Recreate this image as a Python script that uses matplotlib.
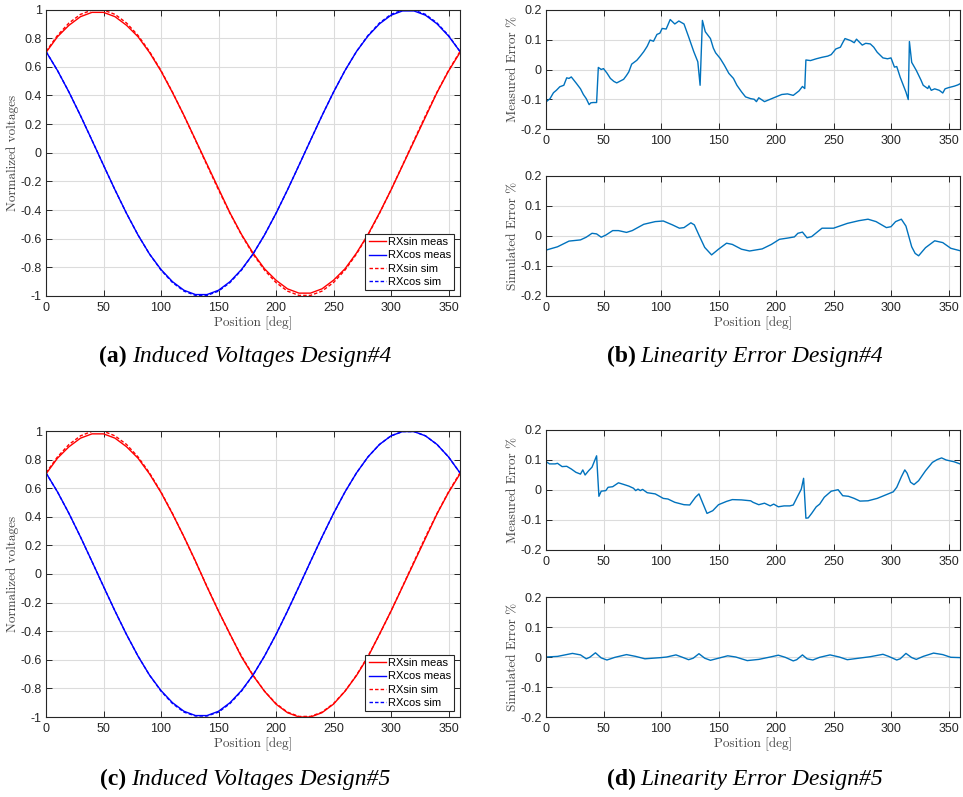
import numpy as np
import matplotlib.pyplot as plt

plt.rcParams['axes.unicode_minus'] = False
plt.rcParams['font.family'] = 'Liberation Sans'

W, H = 963, 797

# ---- induced voltages, read every 10 deg ----
pos_v = list(range(0, 361, 10))

d4_sin_meas = [0.70, 0.81, 0.89, 0.95, 0.98, 0.98, 0.95, 0.89, 0.81, 0.70, 0.57, 0.42, 0.26, 0.09,
               -0.08, -0.25, -0.42, -0.57, -0.70, -0.81, -0.89, -0.95, -0.98, -0.98, -0.95, -0.89,
               -0.81, -0.70, -0.57, -0.42, -0.26, -0.09, 0.08, 0.25, 0.42, 0.57, 0.70]
d4_cos_meas = [0.707, 0.574, 0.423, 0.259, 0.087, -0.087, -0.259, -0.423, -0.574, -0.707, -0.815,
               -0.900, -0.960, -0.990, -0.990, -0.960, -0.900, -0.815, -0.707, -0.574, -0.423,
               -0.259, -0.087, 0.087, 0.259, 0.423, 0.574, 0.707, 0.815, 0.900, 0.960, 0.990,
               0.990, 0.960, 0.900, 0.815, 0.707]
d4_sin_sim = [0.707, 0.819, 0.906, 0.966, 0.996, 0.996, 0.966, 0.906, 0.819, 0.707, 0.574, 0.423,
              0.259, 0.087, -0.087, -0.259, -0.423, -0.574, -0.707, -0.819, -0.906, -0.966, -0.996,
              -0.996, -0.966, -0.906, -0.819, -0.707, -0.574, -0.423, -0.259, -0.087, 0.087, 0.259,
              0.423, 0.574, 0.707]
d4_cos_sim = [0.707, 0.574, 0.423, 0.259, 0.087, -0.087, -0.259, -0.423, -0.574, -0.707, -0.819,
              -0.906, -0.966, -0.996, -0.996, -0.966, -0.906, -0.819, -0.707, -0.574, -0.423,
              -0.259, -0.087, 0.087, 0.259, 0.423, 0.574, 0.707, 0.819, 0.906, 0.966, 0.996,
              0.996, 0.966, 0.906, 0.819, 0.707]

d5_sin_meas = [0.70, 0.81, 0.89, 0.95, 0.98, 0.98, 0.95, 0.89, 0.81, 0.70, 0.57, 0.42, 0.26, 0.09,
               -0.09, -0.26, -0.42, -0.58, -0.71, -0.82, -0.91, -0.97, -1.00, -1.00, -0.97, -0.91,
               -0.82, -0.71, -0.58, -0.42, -0.26, -0.09, 0.08, 0.25, 0.42, 0.57, 0.70]
d5_cos_meas = [0.707, 0.574, 0.423, 0.259, 0.087, -0.087, -0.259, -0.423, -0.574, -0.707, -0.815,
               -0.900, -0.960, -0.990, -0.990, -0.960, -0.900, -0.815, -0.707, -0.574, -0.423,
               -0.259, -0.087, 0.087, 0.259, 0.423, 0.574, 0.707, 0.819, 0.906, 0.966, 0.996,
               0.996, 0.966, 0.906, 0.819, 0.707]
d5_sin_sim = [0.707, 0.819, 0.906, 0.966, 0.998, 0.998, 0.966, 0.906, 0.819, 0.707, 0.574, 0.423,
              0.259, 0.087, -0.087, -0.259, -0.423, -0.574, -0.707, -0.819, -0.906, -0.966, -0.996,
              -0.996, -0.966, -0.906, -0.819, -0.707, -0.574, -0.423, -0.259, -0.087, 0.087, 0.259,
              0.423, 0.574, 0.707]
d5_cos_sim = [0.707, 0.574, 0.423, 0.259, 0.087, -0.087, -0.259, -0.423, -0.574, -0.707, -0.819,
              -0.906, -0.966, -0.993, -0.993, -0.966, -0.906, -0.819, -0.707, -0.574, -0.423,
              -0.259, -0.087, 0.087, 0.259, 0.423, 0.574, 0.707, 0.819, 0.906, 0.966, 0.996,
              0.996, 0.966, 0.906, 0.819, 0.707]

# ---- linearity error, digitized ----
d4_err_meas_pos = [0, 3.5, 6.5, 9, 12, 15.5, 18, 20, 22, 26.5, 30, 32.5, 35, 37.5, 39, 41, 44, 45.5,
                   48, 50, 53, 56, 59, 61.5, 64, 67.5, 70, 72, 74.5, 79, 82, 85, 88, 90.5, 93.5,
                   96.5, 99, 101, 104.5, 108, 112, 115.5, 120, 124, 128.5, 132, 134, 136, 138.5,
                   143, 145.5, 147.5, 151.5, 155, 159, 163, 166, 170, 173.5, 178, 181, 183, 185,
                   190, 195, 200, 205, 210, 215, 220, 223, 225, 226, 230, 235, 240, 245, 248, 252,
                   256, 258, 260, 265, 268, 270, 275, 278, 282, 285, 288, 293, 297, 300, 303, 305,
                   308, 313, 315, 316, 318, 322, 326, 328, 332, 333, 335, 338, 342, 345, 347, 350,
                   355, 358, 360]
d4_err_meas = [-0.109, -0.098, -0.078, -0.070, -0.058, -0.053, -0.028, -0.030, -0.025, -0.047,
               -0.065, -0.084, -0.098, -0.118, -0.112, -0.111, -0.111, 0.007, 0.000, 0.003,
               -0.012, -0.030, -0.040, -0.045, -0.040, -0.033, -0.020, -0.008, 0.018, 0.031,
               0.045, 0.060, 0.078, 0.099, 0.095, 0.118, 0.122, 0.138, 0.136, 0.168, 0.153,
               0.163, 0.153, 0.110, 0.060, 0.026, -0.053, 0.165, 0.127, 0.104, 0.072, 0.056,
               0.037, 0.015, -0.013, -0.030, -0.053, -0.075, -0.092, -0.098, -0.100, -0.108,
               -0.095, -0.108, -0.100, -0.092, -0.084, -0.082, -0.087, -0.072, -0.057, -0.064,
               0.032, 0.030, 0.036, 0.041, 0.045, 0.050, 0.069, 0.075, 0.090, 0.104, 0.097,
               0.090, 0.102, 0.082, 0.088, 0.086, 0.075, 0.058, 0.039, 0.036, 0.039, 0.008,
               0.010, -0.026, -0.076, -0.101, 0.094, 0.024, -0.003, -0.035, -0.053, -0.064,
               -0.055, -0.070, -0.065, -0.070, -0.079, -0.065, -0.061, -0.056, -0.052, -0.048]

d4_err_sim_pos = [0, 10, 20, 30, 35, 40, 44, 48, 52, 58, 63, 70, 75, 85, 95, 102, 110, 116, 120,
                  126, 129, 133, 138, 144, 150, 157, 162, 170, 177, 188, 196, 203, 210, 216, 219,
                  223, 227, 231, 240, 250, 262, 272, 280, 287, 296, 300, 304, 309, 313, 318, 321,
                  324, 330, 338, 345, 352, 360]
d4_err_sim = [-0.047, -0.036, -0.017, -0.013, -0.004, 0.009, 0.007, -0.004, 0.003, 0.018, 0.018,
              0.012, 0.018, 0.039, 0.048, 0.050, 0.037, 0.026, 0.028, 0.044, 0.037, 0.003,
              -0.038, -0.063, -0.044, -0.024, -0.028, -0.044, -0.050, -0.043, -0.028, -0.011,
              -0.007, -0.003, 0.009, 0.013, -0.006, -0.002, 0.026, 0.026, 0.042, 0.051, 0.056,
              0.048, 0.028, 0.031, 0.048, 0.056, 0.033, -0.036, -0.058, -0.066, -0.039, -0.016,
              -0.022, -0.041, -0.049]

d5_err_meas_pos = [0, 3, 8, 10, 14, 18, 22, 26, 30, 32, 34, 37, 40, 44, 46, 48, 52, 54, 58, 63,
                   68, 72, 76, 78, 80, 82, 84, 88, 95, 102, 106, 112, 120, 125, 130, 133, 136,
                   140, 145, 150, 157, 162, 170, 178, 180, 185, 190, 195, 198, 202, 207, 212, 215,
                   218, 222, 224, 226, 228, 231, 235, 238, 242, 248, 254, 258, 263, 268, 273, 280,
                   288, 295, 302, 305, 309, 312, 314, 317, 320, 324, 330, 336, 340, 344, 348, 355,
                   360]
d5_err_meas = [0.095, 0.087, 0.087, 0.089, 0.078, 0.079, 0.070, 0.059, 0.053, 0.067, 0.050, 0.064,
               0.076, 0.114, -0.021, -0.004, -0.002, 0.009, 0.011, 0.024, 0.018, 0.013, 0.006,
               -0.002, 0.003, -0.002, 0.002, -0.009, -0.013, -0.028, -0.030, -0.041, -0.049,
               -0.050, -0.024, -0.013, -0.041, -0.078, -0.069, -0.049, -0.038, -0.032, -0.033,
               -0.036, -0.041, -0.049, -0.044, -0.053, -0.047, -0.056, -0.053, -0.053, -0.050,
               -0.027, 0.003, 0.039, -0.094, -0.093, -0.078, -0.056, -0.047, -0.024, -0.004,
               0.001, -0.019, -0.021, -0.028, -0.037, -0.036, -0.028, -0.017, -0.006, 0.009,
               0.044, 0.067, 0.056, 0.026, 0.018, 0.031, 0.064, 0.092, 0.101, 0.107, 0.100,
               0.094, 0.087]

d5_err_sim_pos = [0, 10, 23, 30, 35, 38, 43, 48, 53, 60, 70, 78, 86, 100, 105, 113, 118, 124, 128,
                  133, 138, 143, 150, 158, 165, 175, 185, 195, 202, 208, 215, 218, 223, 227, 232,
                  238, 247, 255, 262, 272, 282, 293, 298, 305, 308, 313, 318, 322, 328, 337, 345,
                  352, 360]
d5_err_sim = [0.000, 0.002, 0.012, 0.007, -0.006, -0.001, 0.014, -0.003, -0.010, -0.001, 0.008,
              0.002, -0.006, -0.002, 0.000, 0.007, 0.000, -0.009, -0.004, 0.011, -0.004, -0.011,
              -0.004, 0.004, 0.000, -0.012, -0.008, 0.000, 0.006, -0.001, -0.013, -0.009, 0.007,
              -0.006, -0.010, -0.001, 0.007, 0.000, -0.009, -0.004, 0.001, 0.009, 0.002, -0.010,
              -0.006, 0.012, -0.002, -0.008, 0.002, 0.013, 0.008, -0.001, -0.002]

volt_ticks = [-1, -0.8, -0.6, -0.4, -0.2, 0, 0.2, 0.4, 0.6, 0.8, 1]
err_ticks = [-0.2, -0.1, 0, 0.1, 0.2]
pos_ticks = [0, 50, 100, 150, 200, 250, 300, 350]

DARK = '#262626'
LABEL = '#444444'
ERR_BLUE = '#0072BD'
LABEL_FONT = 'cmr10'

fig = plt.figure(figsize=(W / 100, H / 100), dpi=100)


def px_axes(l, t, r, b):
    return fig.add_axes([l / W, 1 - b / H, (r - l) / W, (b - t) / H])


def style(ax, yticks):
    ax.set_xlim(0, 360)
    ax.set_xticks(pos_ticks)
    ax.set_xticklabels([f"{v:g}" for v in pos_ticks])
    ax.set_ylim(yticks[0], yticks[-1])
    ax.set_yticks(yticks)
    ax.set_yticklabels([f"{v:g}" for v in yticks])
    ax.grid(True, color='#dcdcdc', lw=0.8)
    ax.set_axisbelow(True)
    ax.tick_params(direction='in', top=True, right=True, length=4, width=0.7,
                   colors=DARK, labelsize=9)
    ax.tick_params(axis='x', pad=4)
    ax.tick_params(axis='y', pad=3)
    for s in ax.spines.values():
        s.set_color(DARK)
        s.set_linewidth(0.8)


def voltage_panel(rect, sm, cm, ss, cs):
    ax = px_axes(*rect)
    ax.plot(pos_v, sm, color='red', lw=1.0, label='RXsin meas')
    ax.plot(pos_v, cm, color='blue', lw=1.0, label='RXcos meas')
    ax.plot(pos_v, ss, color='red', lw=1.0, ls=(0, (2.5, 1.5)), label='RXsin sim')
    ax.plot(pos_v, cs, color='blue', lw=1.0, ls=(0, (2.5, 1.5)), label='RXcos sim')
    style(ax, volt_ticks)
    ax.set_xlabel('Position [deg]', family=LABEL_FONT, fontsize=9.5, color=LABEL, labelpad=2)
    ax.set_ylabel('Normalized voltages', family=LABEL_FONT, fontsize=9.5, color=LABEL, labelpad=1)
    leg = ax.legend(loc='lower right', fontsize=8, fancybox=False, framealpha=1,
                    edgecolor=DARK, borderaxespad=0.5, handlelength=1.6, handletextpad=0.15,
                    labelspacing=0.3, borderpad=0.3)
    leg.get_frame().set_linewidth(0.8)
    return ax


def error_panel(rect, pos, val, ylabel, xlabel):
    ax = px_axes(*rect)
    ax.plot(pos, val, color=ERR_BLUE, lw=1.0)
    style(ax, err_ticks)
    ax.set_ylabel(ylabel, family=LABEL_FONT, fontsize=9.5, color=LABEL, labelpad=1)
    if xlabel:
        ax.set_xlabel('Position [deg]', family=LABEL_FONT, fontsize=9.5, color=LABEL, labelpad=2)
    return ax


voltage_panel((46, 9.5, 460, 296), d4_sin_meas, d4_cos_meas, d4_sin_sim, d4_cos_sim)
voltage_panel((46, 431, 460, 717), d5_sin_meas, d5_cos_meas, d5_sin_sim, d5_cos_sim)
error_panel((546, 10, 960, 129), d4_err_meas_pos, d4_err_meas, 'Measured Error %', False)
error_panel((546, 176, 960, 296), d4_err_sim_pos, d4_err_sim, 'Simulated Error %', True)
error_panel((546, 430, 960, 550), d5_err_meas_pos, d5_err_meas, 'Measured Error %', False)
error_panel((546, 597, 960, 717), d5_err_sim_pos, d5_err_sim, 'Simulated Error %', True)

# captions: bold tag + italic title, centred as one line
captions = [(245, 356, '(a)', 'Induced Voltages Design#4'),
            (745, 356, '(b)', 'Linearity Error Design#4'),
            (245, 779, '(c)', 'Induced Voltages Design#5'),
            (745, 779, '(d)', 'Linearity Error Design#5')]
renderer = fig.canvas.get_renderer()
for cx, cy, tag, title in captions:
    t1 = fig.text(0, 1 - cy / H, tag, fontsize=17, fontweight='bold', family='Liberation Serif',
                  va='center', ha='left')
    t2 = fig.text(0, 1 - cy / H, title, fontsize=17, style='italic', family='Liberation Serif',
                  va='center', ha='left')
    w1 = t1.get_window_extent(renderer).width
    w2 = t2.get_window_extent(renderer).width
    gap = 5
    x0 = cx - (w1 + gap + w2) / 2
    t1.set_x(x0 / W)
    t2.set_x((x0 + w1 + gap) / W)

fig.savefig('out.png', dpi=100)
